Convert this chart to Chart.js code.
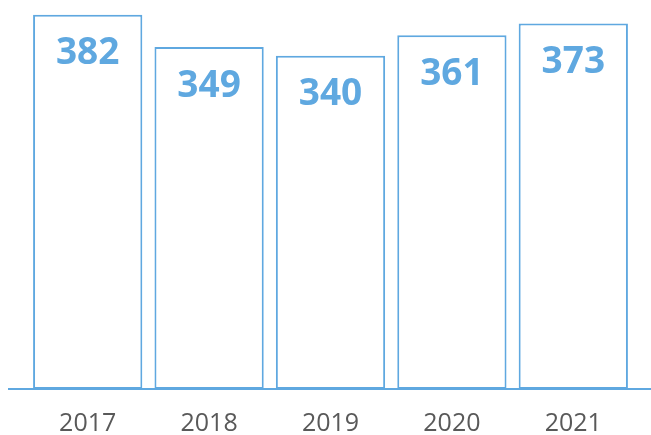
<!DOCTYPE html>
<html>
<head>
<meta charset="utf-8">
<script src="https://cdn.jsdelivr.net/npm/chart.js@4/dist/chart.umd.min.js"></script>
<style>
  html, body { margin: 0; padding: 0; background: #fff; }
  #wrap { width: 651px; height: 435px; position: relative; }
</style>
</head>
<body>
<div id="wrap"><canvas id="c"></canvas></div>
<script>
const years = ["2017", "2018", "2019", "2020", "2021"]
const values = [382, 349, 340, 361, 373]

const BLUE = "#5FA8E0"
const GRAY_TEXT = "#595959"

// value labels inside the top of each bar + the long baseline
const barExtras = {
  id: "barExtras",
  afterDatasetsDraw(chart) {
    const { ctx } = chart
    const meta = chart.getDatasetMeta(0)
    const y0 = chart.scales.y.getPixelForValue(0)

    ctx.save()
    ctx.strokeStyle = BLUE
    ctx.lineWidth = 2
    ctx.beginPath()
    ctx.moveTo(8, y0)
    ctx.lineTo(651, y0)
    ctx.stroke()

    ctx.fillStyle = BLUE
    ctx.font = "bold 37px 'Open Sans'"
    ctx.textAlign = "center"
    ctx.textBaseline = "middle"
    meta.data.forEach((bar, i) => {
      ctx.fillText(String(values[i]), bar.x, bar.y + 39)
    })
    ctx.restore()
  },
}

new Chart(document.getElementById("c"), {
  type: "bar",
  data: {
    labels: years,
    datasets: [
      {
        data: values,
        backgroundColor: "#ffffff",
        borderColor: BLUE,
        borderWidth: 2,
        borderSkipped: false,
        barPercentage: 0.9,
        categoryPercentage: 1,
      },
    ],
  },
  options: {
    animation: false,
    responsive: true,
    maintainAspectRatio: false,
    layout: { padding: { left: 27, right: 17, top: 0, bottom: 0 } },
    plugins: {
      legend: { display: false },
      tooltip: { enabled: false },
    },
    scales: {
      x: {
        grid: { display: false, drawTicks: false },
        border: { display: false },
        afterFit: (scale) => {
          scale.height = 46
        },
        ticks: {
          color: GRAY_TEXT,
          padding: 20,
          font: { family: "'Open Sans'", size: 25 },
        },
      },
      y: {
        display: false,
        min: 0,
        max: 397,
      },
    },
  },
  plugins: [barExtras],
})
</script>
</body>
</html>
